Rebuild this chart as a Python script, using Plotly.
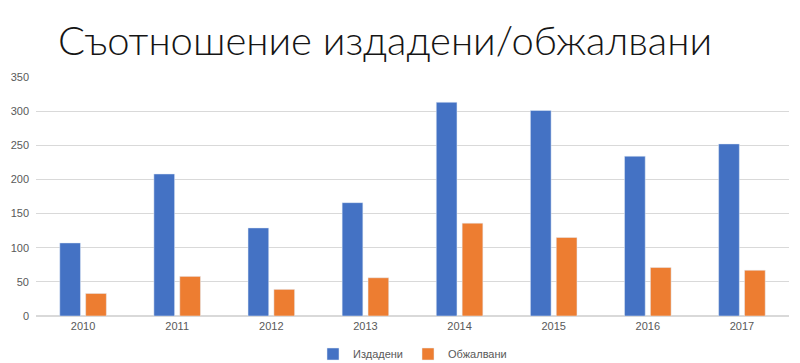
import plotly.graph_objects as go

years = ["2010", "2011", "2012", "2013", "2014", "2015", "2016", "2017"]
issued = [107, 208, 129, 166, 313, 301, 234, 252]
appealed = [33, 58, 39, 56, 136, 115, 71, 67]
series_names = ["Издадени", "Обжалвани"]
title_text = "Съотношение издадени/обжалвани"

fig = go.Figure()
fig.add_trace(go.Bar(x=years, y=issued, name=series_names[0], marker_color="#4472C4"))
fig.add_trace(go.Bar(x=years, y=appealed, name=series_names[1], marker_color="#ED7D31"))

fig.update_layout(
    width=800, height=363,
    margin=dict(l=36, r=11, t=77, b=47, autoexpand=False),
    paper_bgcolor="white", plot_bgcolor="white",
    barmode="group", bargap=0.45, bargroupgap=0.2,
    title=dict(text=title_text, x=58 / 800, xanchor="left",
               yref="container", y=1 - 27 / 363, yanchor="top",
               font=dict(family="Lato", size=40, color="#151515", weight=300)),
    font=dict(family="Liberation Sans, Arial", size=11, color="#595959"),
    xaxis=dict(showgrid=False, showline=True, linecolor="#d9d9d9", ticks="",
               automargin=False, tickfont=dict(size=11, color="#595959")),
    yaxis=dict(range=[0, 350], dtick=50, showgrid=True, gridcolor="#d9d9d9",
               zeroline=True, zerolinecolor="#d9d9d9", ticks="", automargin=False,
               ticklabelstandoff=6,
               tickfont=dict(size=11, color="#595959")),
    legend=dict(orientation="h", x=0.5, xanchor="center",
                yref="container", y=9 / 363, yanchor="middle",
                font=dict(size=11, color="#595959"), traceorder="normal",
                itemwidth=30),
    showlegend=True,
)

fig.write_html("out.html", config={"displayModeBar": False},
               post_script="document.body.style.margin='0';")
